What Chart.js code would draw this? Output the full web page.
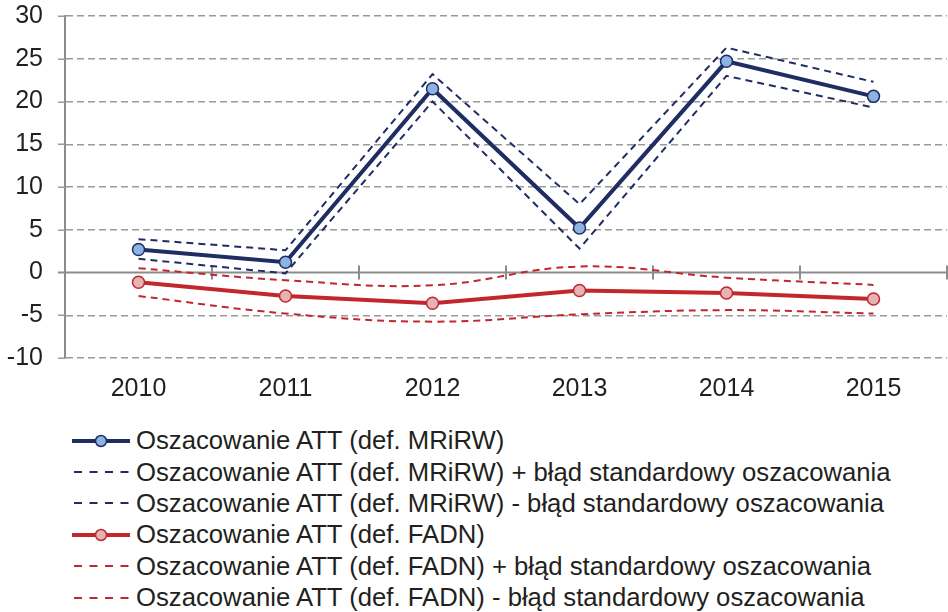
<!DOCTYPE html>
<html>
<head>
<meta charset="utf-8">
<script src="https://cdn.jsdelivr.net/npm/chart.js@4/dist/chart.umd.min.js"></script>
<style>
  html, body { margin: 0; padding: 0; background: #fff; }
  body { width: 948px; height: 612px; position: relative; overflow: hidden; font-family: "Liberation Sans", Arial, sans-serif; }
  #wrap { position: absolute; left: 0; top: 0; width: 948px; height: 402px; }
  #legend { position: absolute; left: 72px; top: 425px; }
  .row { height: 31.4px; display: flex; align-items: center; font-size: 25.7px; color: #231f20; white-space: nowrap; }
  .row svg { width: 58px; height: 20px; margin-right: 6px; flex: none; }
</style>
</head>
<body>
<div id="wrap"><canvas id="c" width="948" height="402"></canvas></div>
<div id="legend"></div>
<script>
const categories = ["2010", "2011", "2012", "2013", "2014", "2015"];
const yTicks = [-10, -5, 0, 5, 10, 15, 20, 25, 30];

const mriwAtt   = [2.7, 1.2, 21.5, 5.2, 24.7, 20.6];
const mriwPlus  = [3.9, 2.6, 23.2, 8.0, 26.3, 22.3];
const mriwMinus = [1.6, -0.1, 20.0, 2.8, 23.0, 19.3];

const fadnAtt   = [-1.15, -2.75, -3.6, -2.1, -2.4, -3.1];
const fadnPlus  = [0.5, -0.9, -1.5, 0.7, -0.6, -1.45];
const fadnMinus = [-2.75, -4.8, -5.75, -4.9, -4.4, -4.8];

const seriesLabels = [
  "Oszacowanie ATT (def. MRiRW)",
  "Oszacowanie ATT (def. MRiRW) + błąd standardowy oszacowania",
  "Oszacowanie ATT (def. MRiRW) - błąd standardowy oszacowania",
  "Oszacowanie ATT (def. FADN)",
  "Oszacowanie ATT (def. FADN) + błąd standardowy oszacowania",
  "Oszacowanie ATT (def. FADN) - błąd standardowy oszacowania"
];

const NAVY = "#1f2d63", NAVY_FILL = "#8db3e2";
const RED = "#c1272d", RED_FILL = "#e5b3b3";
const DASH = [7, 5];
const GRID = "#9a9a9a", AXIS = "#8c8c8c";

function mainDs(label, data, color, fill) {
  return { label, data, borderColor: color, backgroundColor: fill, borderWidth: 4,
    pointRadius: 6, pointHoverRadius: 6, pointBackgroundColor: fill, pointBorderColor: color,
    pointBorderWidth: 1.5, tension: 0, order: 0, fill: false };
}
function dashDs(label, data, color, tension) {
  return { label, data, borderColor: color, borderWidth: 2, borderDash: DASH,
    pointRadius: 0, pointHoverRadius: 0, tension, order: 1, fill: false };
}

const datasets = [
  mainDs(seriesLabels[0], mriwAtt, NAVY, NAVY_FILL),
  dashDs(seriesLabels[1], mriwPlus, NAVY, 0),
  dashDs(seriesLabels[2], mriwMinus, NAVY, 0),
  mainDs(seriesLabels[3], fadnAtt, RED, RED_FILL),
  dashDs(seriesLabels[4], fadnPlus, RED, 0.4),
  dashDs(seriesLabels[5], fadnMinus, RED, 0.4)
];

const axisDecor = {
  id: "axisDecor",
  beforeDatasetsDraw(chart) {
    const { ctx, chartArea, scales: { x, y } } = chart;
    const y0 = y.getPixelForValue(0);
    ctx.save();
    // short dashed tick stubs left of the y axis
    ctx.strokeStyle = GRID;
    ctx.lineWidth = 1.5;
    ctx.beginPath();
    yTicks.forEach(v => {
      if (v === 0) return;
      const py = Math.round(y.getPixelForValue(v)) + 0.25;
      ctx.moveTo(chartArea.left - 7, py);
      ctx.lineTo(chartArea.left, py);
    });
    ctx.stroke();
    // solid zero line with category ticks
    ctx.strokeStyle = AXIS;
    ctx.lineWidth = 2;
    ctx.beginPath();
    ctx.moveTo(chartArea.left - 7, y0);
    ctx.lineTo(chartArea.right, y0);
    for (let i = 0; i <= categories.length; i++) {
      const xb = Math.round(x.getPixelForValue(i - 0.5));
      ctx.moveTo(xb, y0 - 7);
      ctx.lineTo(xb, y0 + 7);
    }
    ctx.stroke();
    ctx.restore();
  }
};

const FONT = { family: "'Liberation Sans', Arial, sans-serif", size: 25 };

new Chart(document.getElementById("c"), {
  type: "line",
  data: { labels: categories, datasets },
  options: {
    responsive: false,
    animation: false,
    layout: { autoPadding: false, padding: { left: 0, right: 1, top: 0, bottom: 0 } },
    plugins: { legend: { display: false }, tooltip: { enabled: false } },
    scales: {
      x: {
        offset: true,
        grid: { display: false },
        border: { display: false },
        ticks: { color: "#231f20", font: FONT, padding: 8, maxRotation: 0 },
        afterFit(scale) { scale.height = 44; scale.paddingLeft = 0; scale.paddingRight = 0; }
      },
      y: {
        min: -10, max: 30,
        afterBuildTicks(scale) { scale.ticks = yTicks.map(v => ({ value: v })); },
        grid: {
          color: ctx => (ctx.tick && ctx.tick.value === 0) ? "rgba(0,0,0,0)" : GRID,
          lineWidth: 1.5,
          drawTicks: false
        },
        border: { display: true, color: AXIS, width: 2, dash: [7, 4] },
        ticks: { color: "#231f20", font: FONT, padding: 22 },
        afterFit(scale) { scale.width = 65; scale.paddingTop = 16; scale.paddingBottom = 0; }
      }
    }
  },
  plugins: [axisDecor]
});

// HTML legend built from the datasets
const legend = document.getElementById("legend");
datasets.forEach(ds => {
  const row = document.createElement("div");
  row.className = "row";
  let svg;
  if (ds.pointRadius > 0) {
    svg = `<svg viewBox="0 0 58 20"><line x1="0" y1="10" x2="58" y2="10" stroke="${ds.borderColor}" stroke-width="4"/>` +
          `<circle cx="29" cy="10" r="5.5" fill="${ds.pointBackgroundColor}" stroke="${ds.borderColor}" stroke-width="1.5"/></svg>`;
  } else {
    svg = `<svg viewBox="0 0 58 20"><line x1="2" y1="10" x2="58" y2="10" stroke="${ds.borderColor}" stroke-width="1.8" stroke-dasharray="8 7.5"/></svg>`;
  }
  row.innerHTML = svg + `<span>${ds.label}</span>`;
  legend.appendChild(row);
});
</script>
</body>
</html>
